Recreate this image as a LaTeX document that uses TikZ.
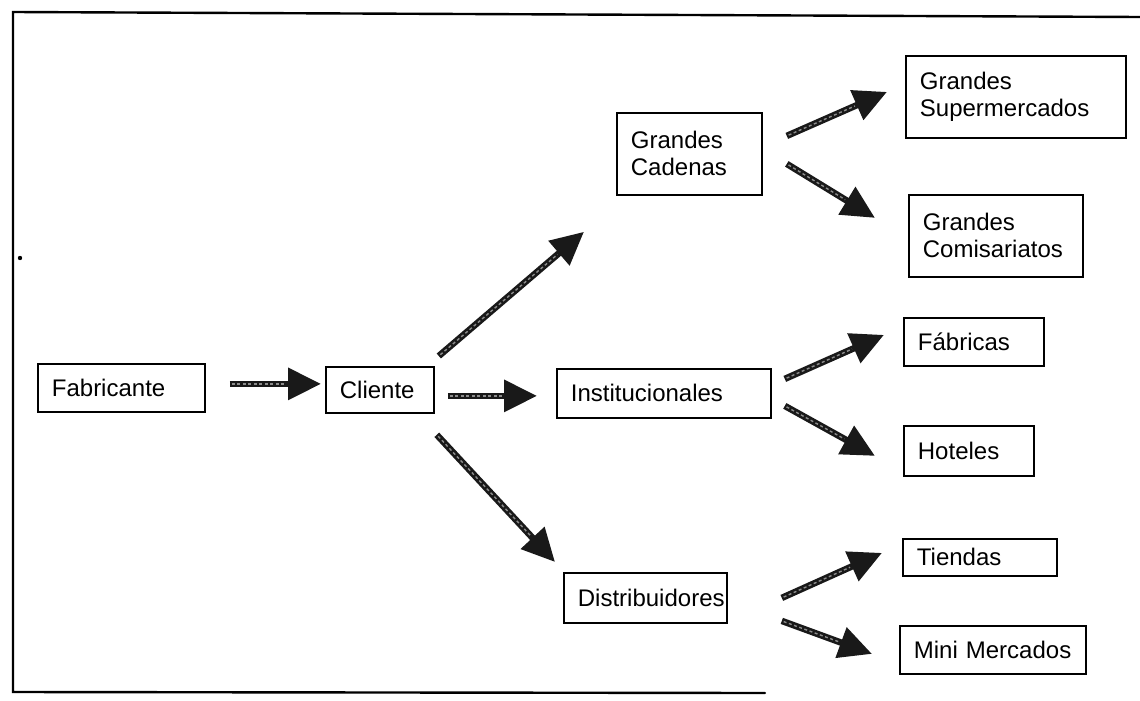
\documentclass[tikz,border=0pt]{standalone}
\usepackage{fontspec}
\setmainfont{Liberation Sans}
\usetikzlibrary{arrows.meta}
\begin{document}
\begin{tikzpicture}[x=1pt,y=-1pt,
  box/.style={draw=black, line width=1.8pt, anchor=north west, inner xsep=14pt, inner ysep=0pt,
    align=left, font=\fontsize{24}{27}\selectfont},
  arr/.style={draw=black!90, line width=6.5pt,
    -{Triangle[length=33pt,width=31pt]},
    postaction={draw=black!45, line width=1.4pt, dash pattern=on 3pt off 2.5pt,
      shorten >=35pt, shorten <=2pt, -}},
  frame/.style={line width=2.4pt, line cap=round}]
\useasboundingbox (0,0) rectangle (1140,701);

% outer frame, open on the right
\draw[frame] (1140,17) -- (13,12) -- (13,692) -- (765,693);
\fill (20,258) circle (2.2);

% boxes: corner, width, height
\node[box, minimum width=167pt, minimum height=48pt, text width=139pt] (fab) at (37,363) {Fabricante};
\node[box, minimum width=108pt, minimum height=46pt, text width=80pt] (cli) at (325,366) {Cliente};
\node[box, minimum width=214pt, minimum height=49pt, text width=186pt] (inst) at (556,368) {Institucionales};
\node[box, minimum width=145pt, minimum height=82pt, text width=117pt] (gc) at (616,112) {Grandes\\Cadenas\\[6pt]};
\node[box, minimum width=163pt, minimum height=50pt, text width=135pt] (dist) at (563,572) {\mbox{Distribuidores}};
\node[box, minimum width=220pt, minimum height=82pt, text width=192pt] (gsup) at (905,55) {Grandes\\Supermercados\\[6pt]};
\node[box, minimum width=174pt, minimum height=82pt, text width=146pt] (gcom) at (908,194) {Grandes\\Comisariatos\\[6pt]};
\node[box, minimum width=140pt, minimum height=48pt, text width=112pt] (fabr) at (903,317) {Fábricas};
\node[box, minimum width=130pt, minimum height=50pt, text width=102pt] (hot) at (903,425) {Hoteles};
\node[box, minimum width=154pt, minimum height=37pt, text width=126pt, inner xsep=12pt] (tie) at (902,538) {Tiendas};
\node[box, minimum width=186pt, minimum height=48pt, text width=158pt] (mini) at (899,625) {\mbox{Mini Mercados}};

% connectors
\draw[arr] ([shift={(24,-4)}]fab.east) -- ([shift={(-4,-6)}]cli.west);
\draw[arr] ([shift={(13,6)}]cli.east) -- ([shift={(-19,2.5)}]inst.west);
\draw[arr] ([shift={(4,-10)}]cli.north east) -- ([shift={(-32,36)}]gc.south west);
\draw[arr] ([shift={(2,21)}]cli.south east) -- ([shift={(-8,-10)}]dist.north west);
\draw[arr] ([shift={(24,-18)}]gc.east) -- ([shift={(-18,-5)}]gsup.west);
\draw[arr] ([shift={(24,10)}]gc.east) -- ([shift={(-33,-18)}]gcom.west);
\draw[arr] ([shift={(13,-14.5)}]inst.east) -- ([shift={(-19,-7)}]fabr.west);
\draw[arr] ([shift={(13,12.5)}]inst.east) -- ([shift={(-28,5)}]hot.west);
\draw[arr] ([shift={(54,0)}]dist.east) -- ([shift={(-20,-4.5)}]tie.west);
\draw[arr] ([shift={(54,23)}]dist.east) -- ([shift={(-27,4)}]mini.west);
\end{tikzpicture}
\end{document}
